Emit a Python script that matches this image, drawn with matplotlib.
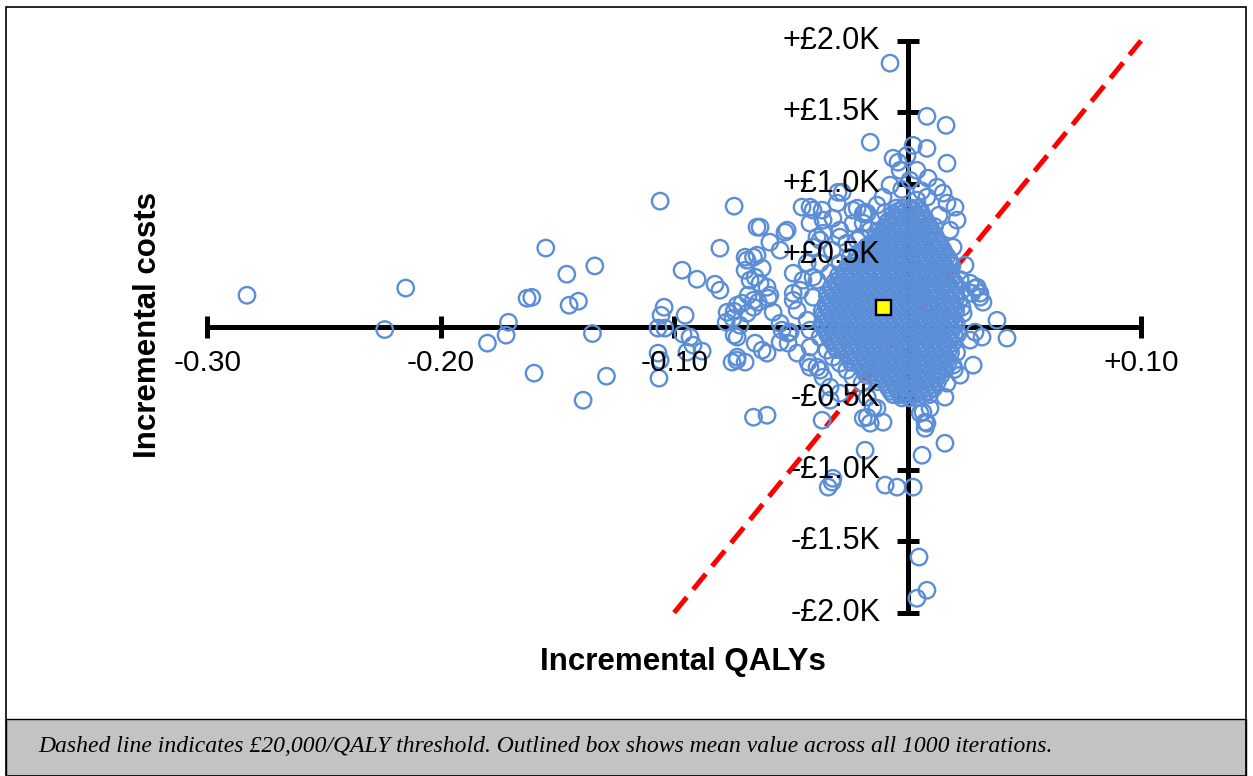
import matplotlib
matplotlib.use("Agg")
import matplotlib.pyplot as plt
from matplotlib.patches import Rectangle

plt.rcParams['font.family'] = ['Liberation Sans', 'DejaVu Sans']

# scattered iterations (incremental QALYs, incremental costs in £)
spread_qaly = [
    -0.283, -0.215, -0.224, -0.155, -0.146, -0.163, -0.161, -0.171, -0.172, -0.180,
    -0.160, -0.139, -0.145, -0.141, -0.134, -0.135, -0.129,
    -0.1060, -0.0743, -0.0804, -0.0966, -0.0902, -0.0825, -0.0804, -0.1043, -0.1056,
    -0.0953, -0.1069, -0.1040, -0.0962, -0.0932, -0.0919, -0.0880, -0.0945, -0.1069,
    -0.1060, -0.1065, -0.0773, -0.0743, -0.0777, -0.0743, -0.0752, -0.0731,
    -0.0632, -0.0525, -0.0590, -0.0546, -0.0452, -0.0405, -0.0362, -0.0320, -0.0298,
    -0.0688, -0.0660, -0.0623, -0.0696, -0.0653, -0.0632, -0.0602, -0.0597, -0.0660,
    -0.0709, -0.0688, -0.0660, -0.0718, -0.0730, -0.0653, -0.0623, -0.0602, -0.0538,
    -0.0503, -0.0546, -0.0512, -0.0473, -0.0418, -0.0375, -0.0418, -0.0660, -0.0602,
    -0.0366, -0.0190, -0.0182, -0.0320, -0.0460, -0.0490, -0.0405, -0.0490, -0.0405,
    -0.0375, -0.0375, -0.0323, -0.0290, -0.0234, -0.0182, -0.0473, -0.0430, -0.0418,
    -0.0375, -0.0345, -0.0320, -0.0290, -0.0260, -0.0234, -0.0195, -0.0173, -0.0148,
    -0.0160, -0.0645, -0.0696, -0.0645, -0.0675, -0.0590, -0.0683, -0.0730, -0.0640,
    -0.0748, -0.0576, -0.0490, -0.0546, -0.0512, -0.0730, -0.0696, -0.0426, -0.0388,
    -0.0362, -0.0332, -0.0290, -0.0332, -0.0418, -0.0362, -0.0405, -0.0430, -0.0448,
    -0.0388, -0.0332, -0.0290, -0.0246, -0.0190, -0.0216, -0.0190, -0.0234, -0.0302,
    -0.0075, 0.0083, 0.0165, -0.0160, 0.0024, 0.0083, -0.0062, -0.0041, -0.0002,
    0.0169, -0.0032, 0.0040, 0.0010, -0.0075, 0.0088, 0.0126, -0.0280, -0.0366,
    -0.0216, -0.0173, -0.0131, -0.0105, 0.0169, 0.0203, 0.0152, 0.0083, 0.0040,
    0.0212, 0.0182, 0.0195, 0.0246, -0.0516, -0.0418, -0.0388, -0.0290, -0.0260,
    -0.0203, -0.0160, -0.0118, -0.0088, -0.0190, 0.0135, 0.0115, -0.0095, -0.0025,
    0.0060, 0.0310, 0.0298, 0.0268, 0.0233, 0.0233, 0.0383,
    0.0289, 0.0310, 0.0276, 0.0323, 0.0238, 0.0426, 0.0289, 0.0319, 0.0268, 0.0281,
    0.0225, 0.0169, 0.0195, 0.0160, 0.0096, 0.0075, 0.0054, -0.0105, -0.0173,
    -0.0019, 0.0032, -0.0075, -0.0118, 0.0225, 0.0220, 0.0215, 0.0210, 0.0200,
    -0.0131, 0.0066, 0.0083, 0.0075, 0.0160, 0.0062, -0.0323, -0.0340, -0.0096,
    -0.0045, 0.0024, 0.0049, 0.0040, 0.0083,
]
spread_cost = [
    220, 270, -20, 550, 367, 199, 205, 31, -59, -115,
    -325, -514, 150, 178, 425, -48, -346,
    878, 843, 549, 395, 332, 297, 255, 136, 80,
    80, -10, -10, -52, -73, -129, -171, -178, -185,
    -234, -360, 101, 108, 31, -59, -248, -234,
    696, 661, 591, 535, 836, 815, 745, 759, 940,
    465, 486, 409, 395, 346, 304, 276, 199, 185,
    164, 94, 136, 10, -73, -115, -164, -185, -24,
    -38, -108, -115, -185, -283, -304, -143, -633, -619,
    -654, -640, -864, -1060, 255, 185, 206, 374, 346,
    444, 605, 535, 626, 815, 801, 115, 45, -24,
    -73, -164, -213, -255, -304, -353, -395, -493, -563,
    -675, 696, 486, 500, 325, 220, 220, 150, 171,
    59, 101, 234, 24, -45, -213, -248, -248, -283,
    -353, -423, -465, -514, 836, 653, 556, 444, 325,
    325, 374, 444, 486, 535, 605, 790, 722, 864,
    1843, 1471, 1408, 1290, 1268, 1247, 1178, 1150, 1199,
    1143, 1094, 1094, 1024, 990, 1038, 976, 940, 815,
    829, 794, 850, 906, 864, 836, 934, 906, 885,
    745, 675, 556, 430, 675, 724, 626, 675, 584,
    626, 675, 626, 724, 724, 780, 700, 800, 960,
    950, 206, 276, 304, 255, 136, 45,
    269, 234, 234, 171, 94, -80, -38, -73, -94, -269,
    -339, -395, -269, -493, -570, -668, -605, -668, -633,
    -465, -465, -353, -283, 330, 180, -50, -180, -300,
    -570, -598, -675, -710, -815, -899, -1087, -1122, -1108,
    -1122, -1122, -1611, -1899, -1843,
]

# dense core of iterations near the origin, one row per cost level
core_cost = [830, 785, 740, 695, 650, 605, 560, 515, 470, 425, 380, 335, 290, 245, 200,
             155, 110, 65, 20, -25, -70, -115, -160, -205, -250, -295, -340, -385, -430, -475]
core_qaly = [
    [-0.0046, -0.0017, 0.0015, 0.0045],
    [-0.0063, -0.0031, 0.0002, 0.0034, 0.0061],
    [-0.0081, -0.0047, -0.0014, 0.0017, 0.0049, 0.0078],
    [-0.0098, -0.0066, -0.0030, 0.0001, 0.0033, 0.0062, 0.0094],
    [-0.0114, -0.0081, -0.0050, -0.0015, 0.0018, 0.0047, 0.0082, 0.0111],
    [-0.0129, -0.0095, -0.0065, -0.0031, 0.0002, 0.0034, 0.0063, 0.0097, 0.0126],
    [-0.0174, -0.0145, -0.0110, -0.0081, -0.0047, -0.0018, 0.0017, 0.0046, 0.0081, 0.0113, 0.0142],
    [-0.0193, -0.0158, -0.0129, -0.0094, -0.0066, -0.0031, 0.0001, 0.0030, 0.0065, 0.0095, 0.0129, 0.0158],
    [-0.0209, -0.0175, -0.0146, -0.0111, -0.0082, -0.0046, -0.0017, 0.0015, 0.0049, 0.0078, 0.0113, 0.0143, 0.0177],
    [-0.0254, -0.0225, -0.0190, -0.0161, -0.0127, -0.0097, -0.0062, -0.0033, 0.0002, 0.0031, 0.0066, 0.0094,
     0.0129, 0.0159, 0.0190],
    [-0.0271, -0.0241, -0.0206, -0.0177, -0.0142, -0.0113, -0.0079, -0.0049, -0.0014, 0.0017, 0.0047, 0.0082,
     0.0110, 0.0145, 0.0175],
    [-0.0289, -0.0254, -0.0225, -0.0191, -0.0162, -0.0126, -0.0097, -0.0063, -0.0030, -0.0001, 0.0033, 0.0062,
     0.0098, 0.0127, 0.0161, 0.0190],
    [-0.0305, -0.0271, -0.0242, -0.0207, -0.0178, -0.0143, -0.0113, -0.0078, -0.0050, -0.0015, 0.0018, 0.0046,
     0.0081, 0.0111, 0.0146, 0.0174, 0.0206],
    [-0.0321, -0.0286, -0.0257, -0.0223, -0.0194, -0.0158, -0.0129, -0.0095, -0.0065, -0.0030, 0.0001, 0.0034,
     0.0063, 0.0097, 0.0126, 0.0162, 0.0191],
    [-0.0337, -0.0303, -0.0274, -0.0239, -0.0210, -0.0175, -0.0145, -0.0111, -0.0081, -0.0047, -0.0017, 0.0018,
     0.0047, 0.0079, 0.0113, 0.0143, 0.0178, 0.0207],
    [-0.0350, -0.0321, -0.0287, -0.0258, -0.0223, -0.0193, -0.0159, -0.0130, -0.0095, -0.0063, -0.0032, 0.0002,
     0.0031, 0.0066, 0.0094, 0.0130, 0.0158, 0.0193],
    [-0.0366, -0.0337, -0.0302, -0.0273, -0.0238, -0.0209, -0.0174, -0.0145, -0.0110, -0.0081, -0.0046, -0.0017,
     0.0017, 0.0049, 0.0078, 0.0114, 0.0142, 0.0177, 0.0206],
    [-0.0353, -0.0318, -0.0289, -0.0254, -0.0225, -0.0190, -0.0161, -0.0127, -0.0097, -0.0062, -0.0033, 0.0001,
     0.0030, 0.0065, 0.0097, 0.0127, 0.0161, 0.0191],
    [-0.0367, -0.0335, -0.0305, -0.0271, -0.0241, -0.0207, -0.0177, -0.0143, -0.0113, -0.0079, -0.0049, -0.0015,
     0.0016, 0.0050, 0.0079, 0.0111, 0.0146, 0.0175, 0.0209],
    [-0.0351, -0.0322, -0.0287, -0.0257, -0.0222, -0.0193, -0.0159, -0.0130, -0.0094, -0.0065, -0.0031, 0.0002,
     0.0033, 0.0063, 0.0098, 0.0126, 0.0161, 0.0190],
    [-0.0337, -0.0302, -0.0273, -0.0239, -0.0209, -0.0174, -0.0145, -0.0110, -0.0081, -0.0047, -0.0016, 0.0017,
     0.0047, 0.0082, 0.0111, 0.0145, 0.0176],
    [-0.0319, -0.0289, -0.0255, -0.0225, -0.0191, -0.0161, -0.0126, -0.0097, -0.0063, -0.0030, 0.0001, 0.0033,
     0.0062, 0.0097, 0.0129, 0.0159, 0.0193],
    [-0.0303, -0.0273, -0.0239, -0.0208, -0.0177, -0.0143, -0.0113, -0.0078, -0.0049, -0.0015, 0.0015, 0.0050,
     0.0079, 0.0114, 0.0143, 0.0177],
    [-0.0255, -0.0225, -0.0190, -0.0161, -0.0127, -0.0096, -0.0063, -0.0032, 0.0003, 0.0031, 0.0066, 0.0095,
     0.0129, 0.0161],
    [-0.0241, -0.0207, -0.0177, -0.0142, -0.0113, -0.0079, -0.0048, -0.0014, 0.0017, 0.0046, 0.0081, 0.0112,
     0.0145, 0.0174],
    [-0.0193, -0.0158, -0.0129, -0.0095, -0.0064, -0.0030, 0.0001, 0.0033, 0.0064, 0.0098, 0.0127, 0.0159],
    [-0.0175, -0.0146, -0.0111, -0.0081, -0.0047, -0.0016, 0.0018, 0.0047, 0.0080, 0.0113, 0.0143],
    [-0.0127, -0.0097, -0.0062, -0.0033, 0.0002, 0.0031, 0.0065, 0.0096, 0.0128],
    [-0.0081, -0.0047, -0.0017, 0.0016, 0.0049, 0.0079, 0.0112],
    [-0.0062, -0.0033, 0.0001, 0.0032, 0.0064, 0.0094],
]

# more core iterations, lying between the rows above
core2_cost = [808, 762, 718, 672, 628, 582, 538, 492, 448, 402, 358, 312, 268, 222, 178,
              132, 88, 42, -2, -48, -92, -138, -182, -228, -272, -318, -362, -408, -452, -498]
core2_qaly = [
    [-0.0040, -0.0008, 0.0024, 0.0056],
    [-0.0056, -0.0024, 0.0008, 0.0040, 0.0072],
    [-0.0072, -0.0040, -0.0008, 0.0024, 0.0056, 0.0088],
    [-0.0120, -0.0088, -0.0056, -0.0024, 0.0008, 0.0040, 0.0072, 0.0104],
    [-0.0136, -0.0104, -0.0072, -0.0040, -0.0008, 0.0024, 0.0056, 0.0088, 0.0120],
    [-0.0152, -0.0120, -0.0088, -0.0056, -0.0024, 0.0008, 0.0040, 0.0072, 0.0104, 0.0136],
    [-0.0168, -0.0136, -0.0104, -0.0072, -0.0040, -0.0008, 0.0024, 0.0056, 0.0088, 0.0120, 0.0152],
    [-0.0216, -0.0184, -0.0152, -0.0120, -0.0088, -0.0056, -0.0024, 0.0008, 0.0040, 0.0072, 0.0104, 0.0136,
     0.0168],
    [-0.0232, -0.0200, -0.0168, -0.0136, -0.0104, -0.0072, -0.0040, -0.0008, 0.0024, 0.0056, 0.0088, 0.0120,
     0.0152, 0.0184],
    [-0.0248, -0.0216, -0.0184, -0.0152, -0.0120, -0.0088, -0.0056, -0.0024, 0.0008, 0.0040, 0.0072, 0.0104,
     0.0136, 0.0168],
    [-0.0296, -0.0264, -0.0232, -0.0200, -0.0168, -0.0136, -0.0104, -0.0072, -0.0040, -0.0008, 0.0024, 0.0056,
     0.0088, 0.0120, 0.0152, 0.0184],
    [-0.0312, -0.0280, -0.0248, -0.0216, -0.0184, -0.0152, -0.0120, -0.0088, -0.0056, -0.0024, 0.0008, 0.0040,
     0.0072, 0.0104, 0.0136, 0.0168, 0.0200],
    [-0.0328, -0.0296, -0.0264, -0.0232, -0.0200, -0.0168, -0.0136, -0.0104, -0.0072, -0.0040, -0.0008, 0.0024,
     0.0056, 0.0088, 0.0120, 0.0152, 0.0184],
    [-0.0344, -0.0312, -0.0280, -0.0248, -0.0216, -0.0184, -0.0152, -0.0120, -0.0088, -0.0056, -0.0024, 0.0008,
     0.0040, 0.0072, 0.0104, 0.0136, 0.0168, 0.0200],
    [-0.0328, -0.0296, -0.0264, -0.0232, -0.0200, -0.0168, -0.0136, -0.0104, -0.0072, -0.0040, -0.0008, 0.0024,
     0.0056, 0.0088, 0.0120, 0.0152, 0.0184],
    [-0.0344, -0.0312, -0.0280, -0.0248, -0.0216, -0.0184, -0.0152, -0.0120, -0.0088, -0.0056, -0.0024, 0.0008,
     0.0040, 0.0072, 0.0104, 0.0136, 0.0168, 0.0200],
    [-0.0360, -0.0328, -0.0296, -0.0264, -0.0232, -0.0200, -0.0168, -0.0136, -0.0104, -0.0072, -0.0040, -0.0008,
     0.0024, 0.0056, 0.0088, 0.0120, 0.0152, 0.0184],
    [-0.0344, -0.0312, -0.0280, -0.0248, -0.0216, -0.0184, -0.0152, -0.0120, -0.0088, -0.0056, -0.0024, 0.0008,
     0.0040, 0.0072, 0.0104, 0.0136, 0.0168, 0.0200],
    [-0.0360, -0.0328, -0.0296, -0.0264, -0.0232, -0.0200, -0.0168, -0.0136, -0.0104, -0.0072, -0.0040, -0.0008,
     0.0024, 0.0056, 0.0088, 0.0120, 0.0152, 0.0184],
    [-0.0344, -0.0312, -0.0280, -0.0248, -0.0216, -0.0184, -0.0152, -0.0120, -0.0088, -0.0056, -0.0024, 0.0008,
     0.0040, 0.0072, 0.0104, 0.0136, 0.0168, 0.0200],
    [-0.0328, -0.0296, -0.0264, -0.0232, -0.0200, -0.0168, -0.0136, -0.0104, -0.0072, -0.0040, -0.0008, 0.0024,
     0.0056, 0.0088, 0.0120, 0.0152, 0.0184],
    [-0.0312, -0.0280, -0.0248, -0.0216, -0.0184, -0.0152, -0.0120, -0.0088, -0.0056, -0.0024, 0.0008, 0.0040,
     0.0072, 0.0104, 0.0136, 0.0168],
    [-0.0264, -0.0232, -0.0200, -0.0168, -0.0136, -0.0104, -0.0072, -0.0040, -0.0008, 0.0024, 0.0056, 0.0088,
     0.0120, 0.0152, 0.0184],
    [-0.0248, -0.0216, -0.0184, -0.0152, -0.0120, -0.0088, -0.0056, -0.0024, 0.0008, 0.0040, 0.0072, 0.0104,
     0.0136, 0.0168],
    [-0.0200, -0.0168, -0.0136, -0.0104, -0.0072, -0.0040, -0.0008, 0.0024, 0.0056, 0.0088, 0.0120, 0.0152],
    [-0.0184, -0.0152, -0.0120, -0.0088, -0.0056, -0.0024, 0.0008, 0.0040, 0.0072, 0.0104, 0.0136],
    [-0.0136, -0.0104, -0.0072, -0.0040, -0.0008, 0.0024, 0.0056, 0.0088, 0.0120],
    [-0.0088, -0.0056, -0.0024, 0.0008, 0.0040, 0.0072, 0.0104],
    [-0.0072, -0.0040, -0.0008, 0.0024, 0.0056, 0.0088],
    [-0.0024, 0.0008, 0.0040],
]

mean_qaly = -0.0104
mean_cost = 138

threshold = 20000          # £ per QALY
threshold_qaly = [-0.1, 0.1]

x_ticks = [-0.3, -0.2, -0.1, 0.1]
x_tick_labels = ['-0.30', '-0.20', '-0.10', '+0.10']
y_ticks = [2000, 1500, 1000, 500, -500, -1000, -1500, -2000]
y_tick_labels = ['+£2.0K', '+£1.5K', '+£1.0K', '+£0.5K', '-£0.5K', '-£1.0K', '-£1.5K', '-£2.0K']

caption = ('Dashed line indicates £20,000/QALY threshold. '
           'Outlined box shows mean value across all 1000 iterations.')

W, H = 1253, 776
fig = plt.figure(figsize=(W / 100, H / 100), dpi=100)
fig.patch.set_facecolor('white')

# frame + grey caption box
fig.patches.append(Rectangle((6 / W, 0), 1240 / W, 57 / H, transform=fig.transFigure,
                             facecolor='#c3c3c3', edgecolor='black', lw=1.0))
fig.patches.append(Rectangle((6 / W, 0), 1240 / W, 769 / H, transform=fig.transFigure,
                             fill=False, edgecolor='black', lw=1.2))

ax = fig.add_axes([207.3 / W, (H - 612.7) / H, (1141 - 207.3) / W, (612.7 - 40.7) / H])
ax.patch.set_visible(False)
ax.set_xlim(-0.3, 0.1)
ax.set_ylim(-2000, 2000)

# axes through the origin
for side in ['top', 'right']:
    ax.spines[side].set_visible(False)
for side in ['left', 'bottom']:
    ax.spines[side].set_position(('data', 0))
    ax.spines[side].set_linewidth(3.6)
    ax.spines[side].set_zorder(1)
ax.set_xticks([-0.3, -0.2, -0.1, 0, 0.1])
ax.set_yticks(range(-2000, 2001, 500))
ax.tick_params(direction='inout', length=16, width=3.6, color='black',
               labelbottom=False, labelleft=False)

# threshold line
ax.plot(threshold_qaly, [q * threshold for q in threshold_qaly], color='#ff0000', lw=3.6,
        dashes=(4.0, 2.0), zorder=2, clip_on=False)

# iterations
all_qaly = list(spread_qaly)
all_cost = list(spread_cost)
for costs, rows in [(core_cost, core_qaly), (core2_cost, core2_qaly)]:
    for c, row in zip(costs, rows):
        all_qaly += row
        all_cost += [c] * len(row)
ax.scatter(all_qaly, all_cost, s=140, facecolors='none', edgecolors='#5b8ed6',
           linewidths=1.7, zorder=3, clip_on=False)

# mean
ax.plot([mean_qaly], [mean_cost], marker='s', markersize=10.8, markerfacecolor='#ffff00',
        markeredgecolor='black', markeredgewidth=1.7, zorder=5)

# tick labels drawn on top of the points
for x, lab in zip(x_ticks, x_tick_labels):
    ax.annotate(lab, xy=(x, 0), xytext=(0, -26.3), textcoords='offset points',
                ha='center', va='center', fontsize=21.5, zorder=6, annotation_clip=False)
for y, lab in zip(y_ticks, y_tick_labels):
    ax.annotate(lab, xy=(0, y), xytext=(-19.5, 0), textcoords='offset points',
                ha='right', va='center', fontsize=22, zorder=6, annotation_clip=False)

fig.text(148 / W, 1 - 325 / H, 'Incremental costs', rotation=90, ha='center', va='center',
         fontsize=22.5, fontweight='bold')
fig.text(683 / W, 1 - 662 / H, 'Incremental QALYs', ha='center', va='center',
         fontsize=22.5, fontweight='bold')

fig.text(38 / W, 1 - 747 / H, caption, ha='left', va='center', fontsize=17,
         fontstyle='italic', family=['Liberation Serif', 'DejaVu Serif'])

fig.savefig('out.png', dpi=100)
